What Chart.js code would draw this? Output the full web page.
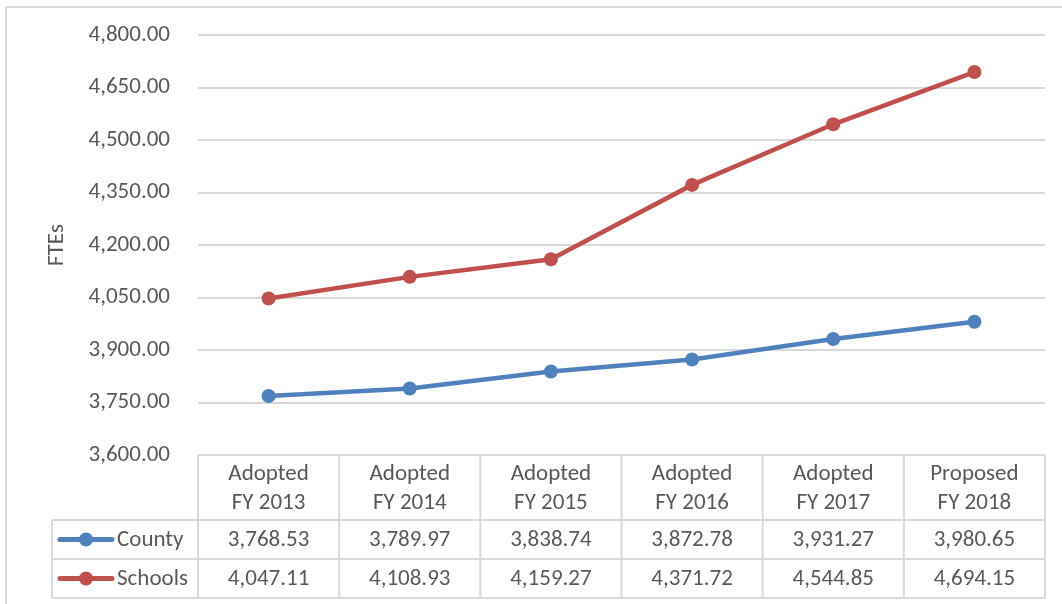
<!DOCTYPE html>
<html>
<head>
<meta charset="utf-8">
<script src="https://cdn.jsdelivr.net/npm/chart.js@4"></script>
<style>
  html, body { margin: 0; padding: 0; background: #fff; }
  #wrap { width: 1062px; height: 604px; position: relative; }
</style>
</head>
<body>
<div id="wrap"><canvas id="fte-chart" width="1062" height="604"></canvas></div>
<script>
  var categories = [['Adopted', 'FY 2013'], ['Adopted', 'FY 2014'], ['Adopted', 'FY 2015'],
                    ['Adopted', 'FY 2016'], ['Adopted', 'FY 2017'], ['Proposed', 'FY 2018']];
  var countyValues = [3768.53, 3789.97, 3838.74, 3872.78, 3931.27, 3980.65];
  var schoolsValues = [4047.11, 4108.93, 4159.27, 4371.72, 4544.85, 4694.15];
  var yTicks = [3600, 3750, 3900, 4050, 4200, 4350, 4500, 4650, 4800];

  var colorBlue = '#4F81BD';
  var colorRed = '#C0504D';
  var textColor = '#595959';
  var lineColor = '#d9d9d9';
  var fontFamily = 'Calibri, Carlito, "Open Sans", sans-serif';
  var fontSize = 23;

  function fmt(v) {
    return v.toLocaleString('en-US', { minimumFractionDigits: 2, maximumFractionDigits: 2 });
  }

  // draws the Excel-style data table under the plot, plus the outer frame
  var dataTablePlugin = {
    id: 'dataTable',
    afterDraw: function (chart) {
      var ctx = chart.ctx;
      var area = chart.chartArea;
      var xScale = chart.scales.x;
      var colW = (area.right - area.left) / categories.length;
      var top = area.bottom;
      var headBottom = top + 65;
      var row1Bottom = headBottom + 39;
      var row2Bottom = row1Bottom + 39;
      var legendLeft = 52;

      ctx.save();
      ctx.strokeStyle = lineColor;
      ctx.lineWidth = 2;

      // outer frame (left and top only visible)
      ctx.beginPath();
      ctx.moveTo(6, 604); ctx.lineTo(6, 7); ctx.lineTo(1062, 7);
      ctx.stroke();

      ctx.beginPath();
      for (var i = 0; i <= categories.length; i++) {
        var x = area.left + i * colW;
        ctx.moveTo(x, top); ctx.lineTo(x, row2Bottom);
      }
      ctx.moveTo(legendLeft, headBottom); ctx.lineTo(area.right, headBottom);
      ctx.moveTo(legendLeft, row1Bottom); ctx.lineTo(area.right, row1Bottom);
      ctx.moveTo(legendLeft, row2Bottom); ctx.lineTo(area.right, row2Bottom);
      ctx.moveTo(legendLeft, headBottom); ctx.lineTo(legendLeft, row2Bottom);
      ctx.stroke();

      ctx.fillStyle = textColor;
      ctx.font = fontSize + 'px ' + fontFamily;
      ctx.textAlign = 'center';
      ctx.textBaseline = 'middle';
      for (var j = 0; j < categories.length; j++) {
        var cx = xScale.getPixelForValue(j);
        ctx.fillText(categories[j][0], cx, top + 19);
        ctx.fillText(categories[j][1], cx, top + 48);
        ctx.fillText(fmt(countyValues[j]), cx, (headBottom + row1Bottom) / 2 + 1);
        ctx.fillText(fmt(schoolsValues[j]), cx, (row1Bottom + row2Bottom) / 2 + 1);
      }

      // legend keys
      var keys = [
        { label: 'County', color: colorBlue, y: (headBottom + row1Bottom) / 2 },
        { label: 'Schools', color: colorRed, y: (row1Bottom + row2Bottom) / 2 }
      ];
      keys.forEach(function (k) {
        ctx.strokeStyle = k.color;
        ctx.lineWidth = 5;
        ctx.lineCap = 'round';
        ctx.beginPath();
        ctx.moveTo(60, k.y); ctx.lineTo(112, k.y);
        ctx.stroke();
        ctx.fillStyle = k.color;
        ctx.beginPath();
        ctx.arc(86, k.y, 7, 0, Math.PI * 2);
        ctx.fill();
        ctx.fillStyle = textColor;
        ctx.textAlign = 'left';
        ctx.fillText(k.label, 117, k.y + 1);
      });
      ctx.restore();
    }
  };

  var ctx = document.getElementById('fte-chart');
  var fteChart = new Chart(ctx, {
    type: 'line',
    data: {
      labels: categories,
      datasets: [{
        label: 'County',
        data: countyValues,
        borderColor: colorBlue,
        backgroundColor: colorBlue,
        borderWidth: 4.5,
        pointRadius: 7,
        pointBorderWidth: 0,
        tension: 0
      }, {
        label: 'Schools',
        data: schoolsValues,
        borderColor: colorRed,
        backgroundColor: colorRed,
        borderWidth: 4.5,
        pointRadius: 7,
        pointBorderWidth: 0,
        tension: 0
      }]
    },
    options: {
      responsive: false,
      animation: false,
      layout: { padding: { top: 35, right: 17, bottom: 149, left: 0 } },
      plugins: {
        legend: { display: false },
        tooltip: { enabled: false }
      },
      scales: {
        x: {
          display: false,
          offset: true
        },
        y: {
          min: 3600,
          max: 4800,
          afterBuildTicks: function (scale) {
            scale.ticks = yTicks.map(function (v) { return { value: v }; });
          },
          afterFit: function (scale) {
            scale.width = 198;
            scale.paddingTop = 0;
            scale.paddingBottom = 0;
          },
          border: { display: false },
          grid: { color: lineColor, lineWidth: 2, drawTicks: false },
          ticks: {
            padding: 28,
            color: textColor,
            font: { family: fontFamily, size: fontSize },
            callback: function (v) { return fmt(v); }
          },
          title: {
            display: true,
            text: 'FTEs',
            color: textColor,
            font: { family: fontFamily, size: fontSize },
            padding: { top: 43, bottom: 0 }
          }
        }
      }
    },
    plugins: [dataTablePlugin]
  });
</script>
</body>
</html>
